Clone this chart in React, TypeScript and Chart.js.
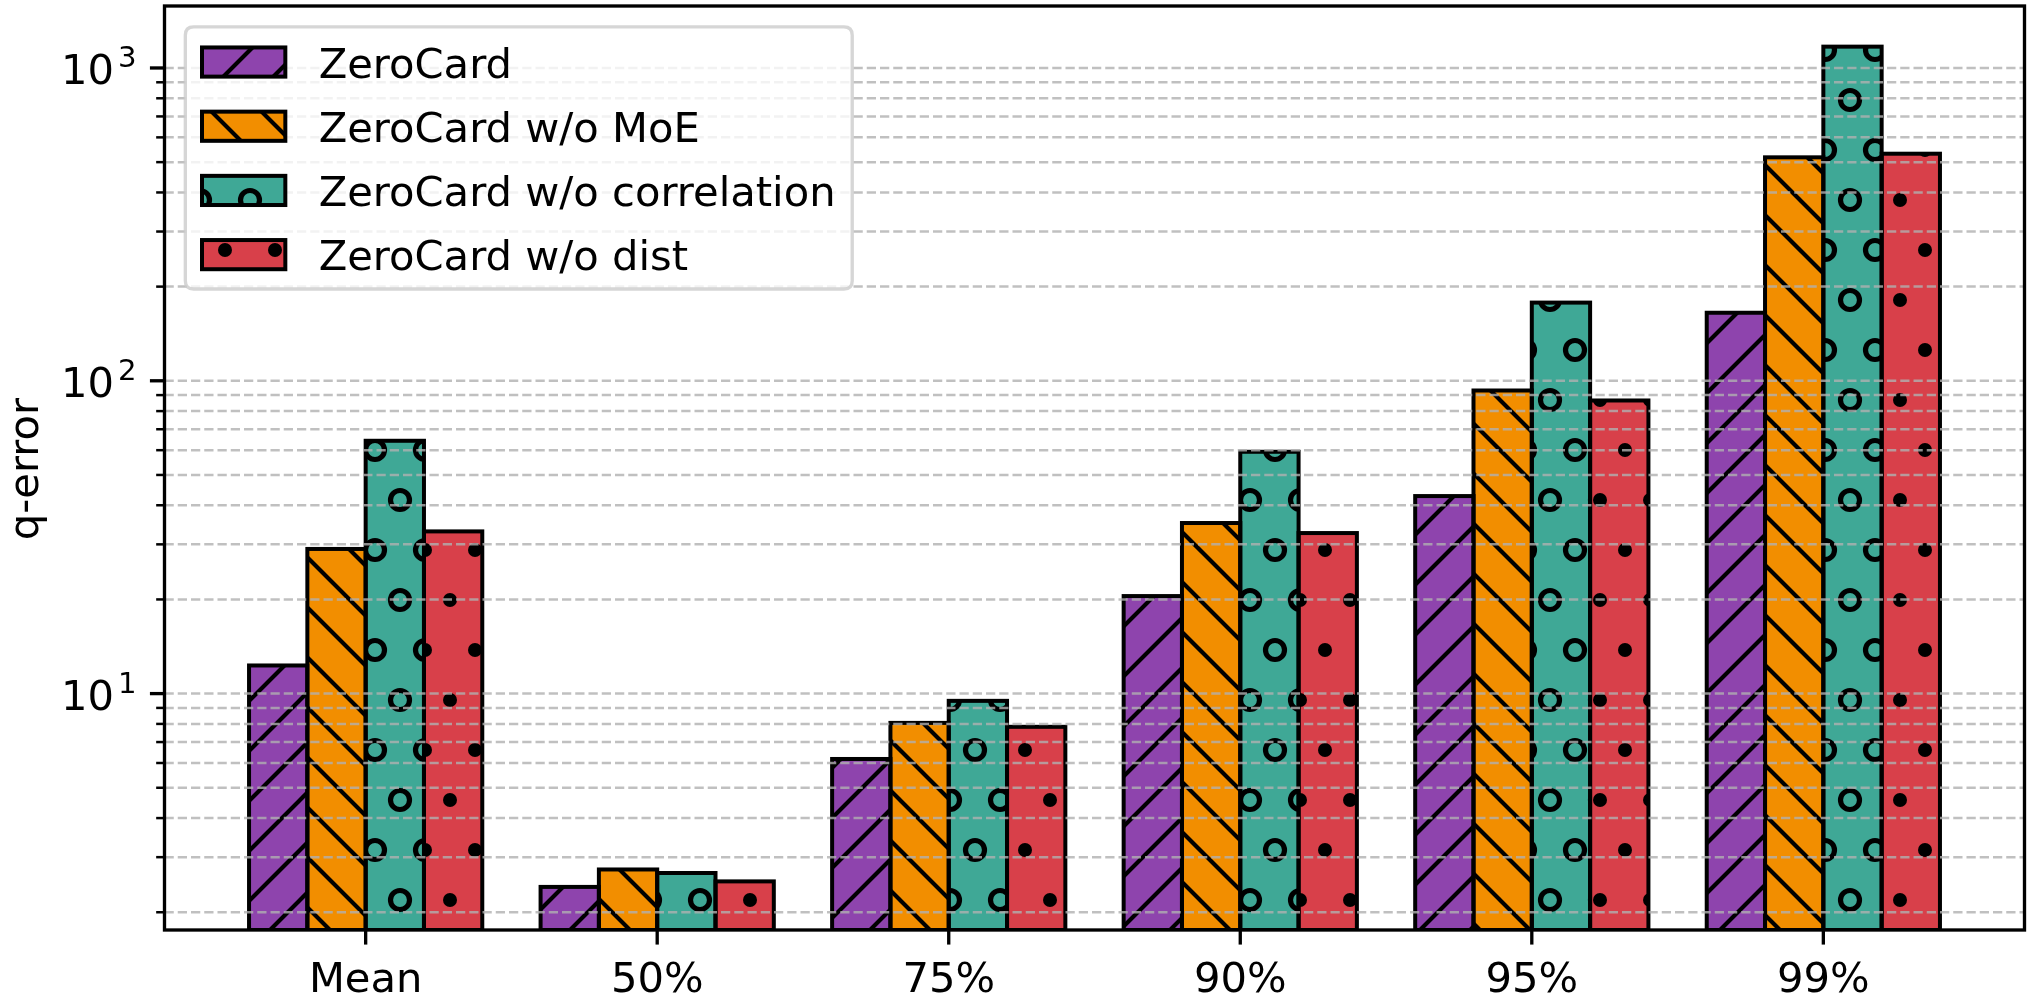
import React, { useEffect, useRef } from "react";
import { Chart, registerables } from "chart.js";

Chart.register(...registerables);

// ---------------- data ----------------
const categories = ["Mean", "50%", "75%", "90%", "95%", "99%"];
const seriesNames = [
  "ZeroCard",
  "ZeroCard w/o MoE",
  "ZeroCard w/o correlation",
  "ZeroCard w/o dist",
];
const zeroCard = [12.3, 2.41, 6.18, 20.5, 42.8, 165];
const woMoE = [29.0, 2.74, 8.06, 35.1, 93.1, 518];
const woCorrelation = [64.3, 2.67, 9.48, 59.3, 177.8, 1170];
const woDist = [33.0, 2.51, 7.83, 32.6, 86.5, 532];
const seriesColors = ["#8E44AD", "#F28E00", "#3FA896", "#D8404A"];
const seriesHatches = ["/", "\\", "o", "."];
const yMajorTicks = [10, 100, 1000];
const yMinorTicks = [2, 3, 4, 5, 6, 7, 8, 9, 20, 30, 40, 50, 60, 70, 80, 90, 200, 300, 400, 500, 600, 700, 800, 900];
const yAxisTitle = "q-error";
const yMin = 1.755;
const yMax = 1578;
const xMin = -0.69;
const xMax = 5.69;

const FONT = '"DejaVu Sans"';
const FS = 41.67;

function makePattern(color: string, hatch: string): CanvasPattern | string {
  const c = document.createElement("canvas");
  c.width = 100;
  c.height = 100;
  const g = c.getContext("2d");
  if (!g) return color;
  g.fillStyle = color;
  g.fillRect(0, 0, 100, 100);
  g.strokeStyle = "#000";
  g.fillStyle = "#000";
  g.lineWidth = 4.17;
  if (hatch === "/") {
    g.beginPath();
    for (const k of [0, 50, 100, 150, 200]) {
      g.moveTo(k + 10, -10);
      g.lineTo(-10, k + 10);
    }
    g.stroke();
  } else if (hatch === "\\") {
    g.beginPath();
    for (const k of [-100, -50, 0, 50, 100]) {
      g.moveTo(k - 10, -10);
      g.lineTo(k + 110, 110);
    }
    g.stroke();
  } else {
    const pts: [number, number][] = [
      [0, 0], [50, 0], [100, 0],
      [25, 50], [75, 50],
      [0, 100], [50, 100], [100, 100],
    ];
    for (const [px, py] of pts) {
      g.beginPath();
      if (hatch === "o") {
        g.lineWidth = 5.2;
        g.arc(px, py, 9.5, 0, Math.PI * 2);
        g.stroke();
      } else {
        g.arc(px, py, 7.0, 0, Math.PI * 2);
        g.fill();
      }
    }
  }
  return g.createPattern(c, "repeat") || color;
}

const decorPlugin = {
  id: "decor",
  afterDatasetsDraw(chart: any) {
    const ctx: CanvasRenderingContext2D = chart.ctx;
    const area = chart.chartArea;
    const xs = chart.scales.x;
    const ys = chart.scales.y;

    // bar outlines
    ctx.save();
    ctx.beginPath();
    ctx.rect(area.left, area.top, area.right - area.left, area.bottom - area.top);
    ctx.clip();
    ctx.lineWidth = 4;
    ctx.strokeStyle = "#000";
    ctx.lineJoin = "miter";
    chart.data.datasets.forEach((_ds: any, i: number) => {
      const meta = chart.getDatasetMeta(i);
      meta.data.forEach((el: any) => {
        const p = el.getProps(["x", "y", "base", "width"], true);
        ctx.strokeRect(p.x - p.width / 2, p.y, p.width, p.base - p.y);
      });
    });

    // dashed grid lines (drawn above bars)
    ctx.lineWidth = 2.5;
    ctx.strokeStyle = "rgba(176,176,176,0.8)";
    ctx.setLineDash([9.25, 4]);
    const allTicks = [...yMinorTicks, ...yMajorTicks].filter((v) => v >= yMin && v <= yMax);
    for (const v of allTicks) {
      const y = ys.getPixelForValue(v);
      ctx.beginPath();
      ctx.moveTo(area.left, y);
      ctx.lineTo(area.right, y);
      ctx.stroke();
    }
    ctx.restore();

    // spines
    ctx.save();
    ctx.strokeStyle = "#000";
    ctx.lineWidth = 3.33;
    ctx.lineJoin = "miter";
    ctx.strokeRect(area.left, area.top, area.right - area.left, area.bottom - area.top);

    // y ticks
    for (const v of yMinorTicks) {
      if (v < yMin || v > yMax) continue;
      const y = ys.getPixelForValue(v);
      ctx.lineWidth = 2.5;
      ctx.beginPath();
      ctx.moveTo(area.left, y);
      ctx.lineTo(area.left - 8.33, y);
      ctx.stroke();
    }
    for (const v of yMajorTicks) {
      const y = ys.getPixelForValue(v);
      ctx.lineWidth = 3.33;
      ctx.beginPath();
      ctx.moveTo(area.left, y);
      ctx.lineTo(area.left - 14.58, y);
      ctx.stroke();
    }
    // x ticks
    categories.forEach((_c, i) => {
      const x = xs.getPixelForValue(i);
      ctx.lineWidth = 3.33;
      ctx.beginPath();
      ctx.moveTo(x, area.bottom);
      ctx.lineTo(x, area.bottom + 14.58);
      ctx.stroke();
    });

    // x tick labels
    ctx.fillStyle = "#000";
    ctx.font = `${FS}px ${FONT}`;
    ctx.textAlign = "center";
    ctx.textBaseline = "alphabetic";
    categories.forEach((c, i) => {
      const x = xs.getPixelForValue(i);
      ctx.fillText(c, x, area.bottom + 62);
    });

    // y tick labels 10^n
    const supRight = area.left - 28;
    for (const v of yMajorTicks) {
      const y = ys.getPixelForValue(v);
      const exp = String(Math.round(Math.log10(v)));
      ctx.font = `${FS * 0.7}px ${FONT}`;
      ctx.textAlign = "right";
      const supW = ctx.measureText(exp).width;
      ctx.fillText(exp, supRight, y - 0.5);
      ctx.font = `${FS}px ${FONT}`;
      ctx.fillText("10", supRight - supW - 4, y + 16);
    }

    // y axis title
    ctx.save();
    ctx.translate(38, (area.top + area.bottom) / 2 + 1);
    ctx.rotate(-Math.PI / 2);
    ctx.font = `${FS}px ${FONT}`;
    ctx.textAlign = "center";
    ctx.textBaseline = "alphabetic";
    ctx.fillText(yAxisTitle, 0, 0);
    ctx.restore();

    // legend
    const lx = area.left + 20.83;
    const ly = area.top + 20.83;
    ctx.font = `${FS}px ${FONT}`;
    const handleX = lx + 16.67;
    const textX = handleX + 83.33 + 33.33;
    const names = chart.data.datasets.map((d: any) => d.label as string);
    const maxW = Math.max(...names.map((n: string) => ctx.measureText(n).width));
    const lw = textX + maxW + 16.67 - lx;
    const lh = 262.2;
    const r = 8.3;
    ctx.beginPath();
    ctx.moveTo(lx + r, ly);
    ctx.lineTo(lx + lw - r, ly);
    ctx.quadraticCurveTo(lx + lw, ly, lx + lw, ly + r);
    ctx.lineTo(lx + lw, ly + lh - r);
    ctx.quadraticCurveTo(lx + lw, ly + lh, lx + lw - r, ly + lh);
    ctx.lineTo(lx + r, ly + lh);
    ctx.quadraticCurveTo(lx, ly + lh, lx, ly + lh - r);
    ctx.lineTo(lx, ly + r);
    ctx.quadraticCurveTo(lx, ly, lx + r, ly);
    ctx.closePath();
    ctx.fillStyle = "rgba(255,255,255,0.8)";
    ctx.fill();
    ctx.strokeStyle = "rgba(204,204,204,0.8)";
    ctx.lineWidth = 3.33;
    ctx.stroke();

    chart.data.datasets.forEach((d: any, i: number) => {
      const cy = ly + 35.2 + i * 64.2;
      ctx.fillStyle = d.backgroundColor;
      ctx.fillRect(handleX, cy - 14.58, 83.33, 29.17);
      ctx.strokeStyle = "#000";
      ctx.lineWidth = 4;
      ctx.strokeRect(handleX, cy - 14.58, 83.33, 29.17);
      ctx.fillStyle = "#000";
      ctx.textAlign = "left";
      ctx.textBaseline = "alphabetic";
      ctx.fillText(d.label, textX, cy + 15.8);
    });
    ctx.restore();
  },
};

export default function App() {
  const canvasRef = useRef<HTMLCanvasElement | null>(null);

  useEffect(() => {
    document.body.style.margin = "0";
    document.body.style.overflow = "hidden";
    const canvas = canvasRef.current;
    if (!canvas) return;
    const seriesValues = [zeroCard, woMoE, woCorrelation, woDist];
    const datasets = seriesValues.map((vals, i) => ({
      label: seriesNames[i],
      data: vals.map((v, j) => ({ x: j, y: v })),
      backgroundColor: makePattern(seriesColors[i], seriesHatches[i]) as any,
      borderWidth: 0,
      categoryPercentage: 0.8,
      barPercentage: 1.0,
    }));
    const chart = new Chart(canvas, {
      type: "bar",
      data: { datasets },
      options: {
        animation: false,
        responsive: false,
        devicePixelRatio: window.devicePixelRatio || 1,
        layout: { padding: { left: 0, top: 6, right: 6.5, bottom: 0 } },
        plugins: {
          legend: { display: false },
          tooltip: { enabled: false },
        },
        scales: {
          x: {
            type: "linear",
            min: xMin,
            max: xMax,
            offset: false,
            grid: { display: false },
            border: { display: false },
            ticks: { display: false },
            afterBuildTicks: (s: any) => {
              s.ticks = categories.map((_c, i) => ({ value: i }));
            },
            afterFit: (s: any) => {
              s.height = 77;
            },
          },
          y: {
            type: "logarithmic",
            min: yMin,
            max: yMax,
            grid: { display: false },
            border: { display: false },
            ticks: { display: false },
            afterFit: (s: any) => {
              s.width = 164.5;
            },
          },
        },
      } as any,
      plugins: [decorPlugin],
    });
    return () => chart.destroy();
  }, []);

  return (
    <div style={{ position: "absolute", left: 0, top: 0, width: 2031, height: 1007, background: "#fff" }}>
      <canvas ref={canvasRef} width={2031} height={1007} style={{ width: 2031, height: 1007, display: "block" }} />
    </div>
  );
}
